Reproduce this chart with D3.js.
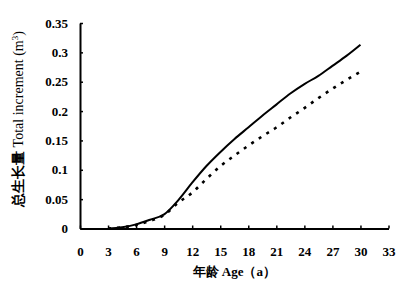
<!DOCTYPE html>
<html>
<head>
<meta charset="utf-8">
<script src="https://cdn.jsdelivr.net/npm/d3@7"></script>
<style>
  body { margin: 0; background: #fff; }
  svg text { font-family: "Liberation Serif", "Times New Roman", serif; fill: #000; }
</style>
</head>
<body>
<div id="chart"></div>
<script>
let w = 403
let h = 287
let margin = {left: 80, right: 15, top: 23, bottom: 59}

// data
let ages = [3, 4.5, 6, 7.5, 9, 10.5, 12, 13.5, 15, 16.5, 18, 19.5, 21, 22.5, 24, 25.5, 27, 28.5, 30]
let solidValues = [0.000, 0.002, 0.007, 0.015, 0.024, 0.048, 0.078, 0.106, 0.130, 0.152, 0.172, 0.192, 0.211, 0.230, 0.246, 0.260, 0.277, 0.294, 0.313]
let dashedValues = [0.000, 0.002, 0.006, 0.013, 0.023, 0.044, 0.061, 0.084, 0.106, 0.124, 0.141, 0.157, 0.172, 0.189, 0.205, 0.222, 0.238, 0.253, 0.267]
let xTicks = [0, 3, 6, 9, 12, 15, 18, 21, 24, 27, 30, 33]
let yTicks = [0, 0.05, 0.1, 0.15, 0.2, 0.25, 0.3, 0.35]
let yTickLabels = ["0", "0.05", "0.1", "0.15", "0.2", "0.25", "0.3", "0.35"]

let svg = d3.select("#chart")
  .append("svg")
  .attr("width", w)
  .attr("height", h)

let x = d3.scaleLinear()
  .domain([0, 33])
  .range([margin.left, 388.5])

let y = d3.scaleLinear()
  .domain([0, 0.35])
  .range([228.5, margin.top])

// x axis, ticks pointing inward
let xAxis = d3.axisBottom(x)
  .tickValues(xTicks)
  .tickSizeInner(-3)
  .tickSizeOuter(0)
  .tickPadding(18)

let gx = svg.append("g")
  .attr("transform", `translate(0,${y(0)})`)
  .call(xAxis)
gx.select(".domain").attr("stroke-width", 2)
gx.selectAll(".tick line").attr("stroke-width", 1.5)
gx.selectAll("text").attr("font-size", 13).style("font-weight", "bold")

let yAxis = d3.axisLeft(y)
  .tickValues(yTicks)
  .tickFormat((d, i) => yTickLabels[i])
  .tickSizeInner(-3)
  .tickSizeOuter(0)
  .tickPadding(12)

let gy = svg.append("g")
  .attr("transform", `translate(${x(0)},0)`)
  .call(yAxis)
gy.select(".domain").attr("stroke-width", 2)
gy.selectAll(".tick line").attr("stroke-width", 1.5)
gy.selectAll("text").attr("font-size", 13).style("font-weight", "bold")

// lines
let line = d3.line()
  .x((d, i) => x(ages[i]))
  .y(d => y(d))
  .curve(d3.curveMonotoneX)

svg.append("path")
  .datum(solidValues)
  .attr("fill", "none")
  .attr("stroke", "#000")
  .attr("stroke-width", 2)
  .attr("d", line)

svg.append("path")
  .datum(dashedValues)
  .attr("fill", "none")
  .attr("stroke", "#000")
  .attr("stroke-width", 2.6)
  .attr("stroke-dasharray", "3,6")
  .attr("d", line)

// axis titles
svg.append("text")
  .attr("x", (x(0) + x(33)) / 2)
  .attr("y", 276)
  .attr("text-anchor", "middle")
  .attr("font-size", 13)
  .style("font-weight", "bold")
  .text("年龄 Age（a）")

let yl = svg.append("text")
  .attr("transform", "translate(23,119) rotate(-90)")
  .attr("text-anchor", "middle")
  .attr("font-size", 14)
  .style("font-weight", "normal")
yl.append("tspan").style("font-weight", "bold").text("总生长量")
yl.append("tspan").text(" Total increment (m")
yl.append("tspan").attr("font-size", 9).attr("dy", -5).text("3")
yl.append("tspan").attr("dy", 5).text(")")
</script>
</body>
</html>
